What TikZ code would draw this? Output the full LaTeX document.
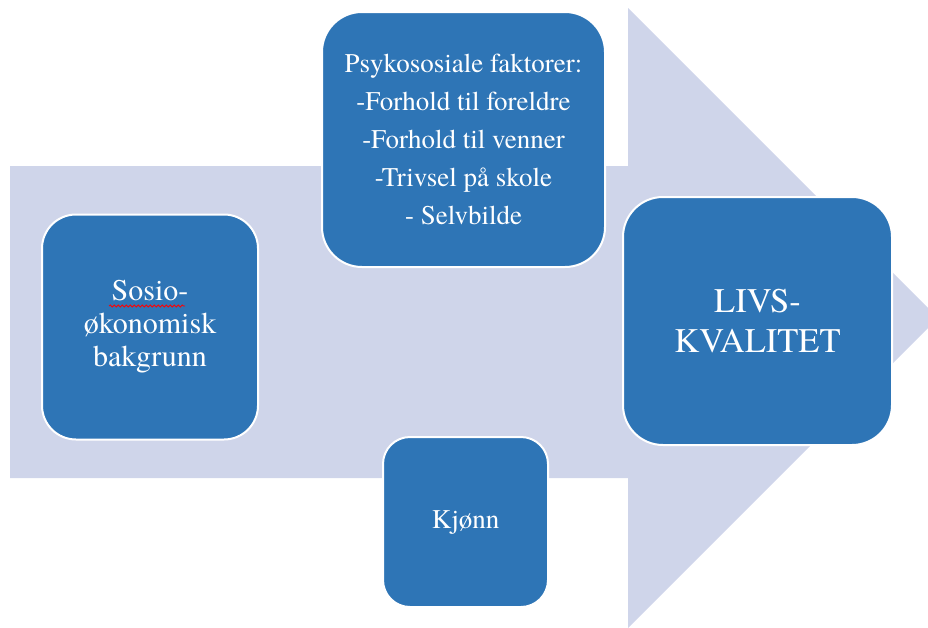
\documentclass[tikz,border=0pt]{standalone}
\usepackage{fontspec}
\setmainfont{texgyretermes-regular.otf}
\newfontfamily\boksfont{texgyretermes-regular.otf}
\usetikzlibrary{calc,decorations.pathmorphing}
\definecolor{pilfarge}{HTML}{CFD5EA}
\definecolor{boksfarge}{HTML}{2E75B6}
\begin{document}
\begin{tikzpicture}[x=1pt, y=-1pt,
    faktor/.style={draw=white, line width=2pt, fill=boksfarge, text=white,
      align=center, inner sep=0pt}]
    \useasboundingbox (0,0) rectangle (928,627);
    % big arrow behind the boxes
    \fill [pilfarge] (10,166) -- (628,166) -- (628,8) -- (938,318) -- (628,628)
      -- (628,478) -- (10,478) -- cycle;
    \node [faktor, rounded corners=34pt, minimum width=216pt, minimum height=225pt,
      font=\boksfont\fontsize{30}{33}\selectfont] (sosio) at (150,327)
      {Sosio-\\økonomisk\\bakgrunn};
    \node [faktor, rounded corners=40pt, minimum width=283pt, minimum height=255pt,
      font=\boksfont\fontsize{27}{38}\selectfont] (psyko) at (463.5,139.5)
      {Psykososiale faktorer:\\-Forhold til foreldre\\-Forhold til venner\\-Trivsel på skole\\- Selvbilde};
    \node [faktor, rounded corners=40pt, minimum width=269pt, minimum height=248pt,
      font=\boksfont\fontsize{34.5}{40}\selectfont] (livs) at (757.5,321)
      {LIVS-\\KVALITET};
    \node [faktor, rounded corners=27pt, minimum width=165pt, minimum height=170pt,
      font=\boksfont\fontsize{27}{32}\selectfont] (kjonn) at (465.5,522) {Kjønn};
    % spell-check squiggle
    \draw [red, line width=0.8pt, decorate, decoration={snake, amplitude=1pt, segment length=4pt}]
      ($(sosio.center)+(-41,-21)$) -- ($(sosio.center)+(35,-21)$);
\end{tikzpicture}
\end{document}
